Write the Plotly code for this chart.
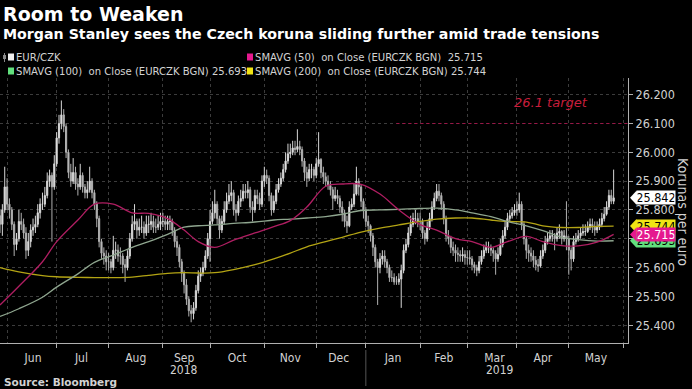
import plotly.graph_objects as go
import pandas as pd

# ---------------- data (EUR/CZK daily) ----------------
first_open = 25.78
close_2018_05 = [25.75, 25.80, 25.88]
high_2018_05 = [25.80, 25.82, 25.95]
low_2018_05 = [25.72, 25.71, 25.79]

close_2018_06 = [25.82, 25.80, 25.75, 25.68, 25.70, 25.76, 25.75, 25.72, 25.66, 25.69, 25.73, 25.74, 25.75, 25.79, 25.82, 25.82, 25.85, 25.90, 25.92, 25.88, 25.96]
high_2018_06 = [25.91, 25.84, 25.81, 25.76, 25.72, 25.80, 25.79, 25.77, 25.74, 25.72, 25.75, 25.77, 25.78, 25.82, 25.84, 25.86, 25.88, 25.93, 25.94, 25.93, 25.99]
low_2018_06 = [25.80, 25.77, 25.73, 25.64, 25.66, 25.69, 25.73, 25.70, 25.63, 25.64, 25.67, 25.71, 25.72, 25.74, 25.77, 25.80, 25.81, 25.84, 25.88, 25.69, 25.87]

close_2018_07 = [26.05, 26.10, 26.13, 26.09, 26.00, 25.93, 25.90, 25.93, 25.89, 25.88, 25.92, 25.88, 25.86, 25.87, 25.90, 25.86, 25.82, 25.77, 25.69, 25.65, 25.64, 25.62]
high_2018_07 = [26.07, 26.13, 26.18, 26.15, 26.10, 26.01, 25.96, 25.98, 25.95, 25.91, 25.96, 25.93, 25.89, 25.90, 25.95, 25.91, 25.87, 25.83, 25.78, 25.70, 25.67, 25.66]
low_2018_07 = [25.95, 26.03, 26.08, 26.07, 25.98, 25.91, 25.88, 25.89, 25.87, 25.85, 25.87, 25.86, 25.84, 25.84, 25.86, 25.84, 25.80, 25.74, 25.67, 25.63, 25.61, 25.59]

close_2018_08 = [25.62, 25.60, 25.66, 25.66, 25.64, 25.64, 25.61, 25.60, 25.64, 25.70, 25.75, 25.76, 25.73, 25.74, 25.74, 25.72, 25.75, 25.75, 25.76, 25.74, 25.74, 25.75, 25.76]
high_2018_08 = [25.65, 25.63, 25.71, 25.69, 25.68, 25.67, 25.65, 25.63, 25.66, 25.72, 25.78, 25.82, 25.77, 25.77, 25.78, 25.76, 25.78, 25.78, 25.79, 25.78, 25.77, 25.78, 25.79]
low_2018_08 = [25.59, 25.58, 25.59, 25.63, 25.62, 25.61, 25.58, 25.55, 25.59, 25.63, 25.69, 25.73, 25.70, 25.71, 25.72, 25.70, 25.71, 25.72, 25.73, 25.72, 25.72, 25.73, 25.73]

close_2018_09 = [25.76, 25.75, 25.76, 25.76, 25.73, 25.69, 25.67, 25.62, 25.58, 25.54, 25.49, 25.45, 25.44, 25.46, 25.52, 25.57, 25.58, 25.60, 25.64, 25.70]
high_2018_09 = [25.79, 25.78, 25.78, 25.78, 25.77, 25.74, 25.71, 25.68, 25.63, 25.59, 25.56, 25.50, 25.47, 25.48, 25.54, 25.59, 25.60, 25.62, 25.66, 25.72]
low_2018_09 = [25.74, 25.73, 25.73, 25.73, 25.71, 25.67, 25.64, 25.60, 25.55, 25.51, 25.47, 25.43, 25.41, 25.42, 25.45, 25.51, 25.55, 25.57, 25.59, 25.63]

close_2018_10 = [25.76, 25.79, 25.82, 25.77, 25.73, 25.76, 25.80, 25.83, 25.85, 25.86, 25.80, 25.79, 25.83, 25.84, 25.865, 25.86, 25.87, 25.81, 25.80, 25.85, 25.84, 25.82, 25.90]
high_2018_10 = [25.80, 25.83, 25.87, 25.83, 25.78, 25.78, 25.83, 25.86, 25.89, 25.90, 25.87, 25.82, 25.85, 25.87, 25.89, 25.89, 25.90, 25.88, 25.83, 25.87, 25.87, 25.86, 25.92]
low_2018_10 = [25.62, 25.75, 25.77, 25.75, 25.70, 25.72, 25.75, 25.79, 25.82, 25.83, 25.78, 25.76, 25.78, 25.81, 25.83, 25.84, 25.84, 25.79, 25.76, 25.79, 25.82, 25.80, 25.81]

close_2018_11 = [25.92, 25.91, 25.85, 25.80, 25.83, 25.87, 25.89, 25.91, 25.94, 25.97, 25.995, 26.00, 26.015, 26.01, 26.02, 26.01, 25.97, 25.93, 25.91, 25.94, 25.94, 25.92]
high_2018_11 = [25.95, 25.94, 25.92, 25.86, 25.85, 25.89, 25.91, 25.93, 25.96, 26.00, 26.03, 26.03, 26.04, 26.04, 26.08, 26.04, 26.02, 25.98, 25.95, 25.96, 25.96, 25.95]
low_2018_11 = [25.88, 25.89, 25.83, 25.78, 25.79, 25.82, 25.86, 25.88, 25.90, 25.93, 25.96, 25.98, 25.99, 25.99, 26.00, 25.99, 25.95, 25.90, 25.88, 25.90, 25.91, 25.90]

close_2018_12 = [25.96, 25.975, 25.93, 25.915, 25.90, 25.885, 25.87, 25.84, 25.85, 25.84, 25.81, 25.79, 25.76, 25.745, 25.81, 25.82, 25.855, 25.90, 25.88, 25.83, 25.80]
high_2018_12 = [25.98, 26.07, 25.98, 25.95, 25.93, 25.92, 25.90, 25.88, 25.88, 25.87, 25.85, 25.83, 25.80, 25.78, 25.83, 25.84, 25.89, 25.95, 25.91, 25.89, 25.84]
low_2018_12 = [25.91, 25.95, 25.91, 25.89, 25.88, 25.87, 25.85, 25.80, 25.83, 25.82, 25.79, 25.76, 25.74, 25.72, 25.74, 25.80, 25.81, 25.85, 25.85, 25.81, 25.77]

close_2019_01 = [25.76, 25.745, 25.71, 25.67, 25.62, 25.60, 25.63, 25.64, 25.62, 25.60, 25.565, 25.565, 25.55, 25.55, 25.56, 25.59, 25.66, 25.68, 25.72, 25.75, 25.77, 25.77, 25.76]
high_2019_01 = [25.81, 25.78, 25.75, 25.72, 25.68, 25.63, 25.65, 25.66, 25.66, 25.63, 25.61, 25.59, 25.58, 25.57, 25.58, 25.61, 25.68, 25.70, 25.74, 25.78, 25.79, 25.80, 25.79]
low_2019_01 = [25.74, 25.72, 25.69, 25.64, 25.60, 25.47, 25.58, 25.61, 25.60, 25.58, 25.55, 25.55, 25.54, 25.54, 25.54, 25.46, 25.58, 25.65, 25.67, 25.71, 25.74, 25.75, 25.74]

close_2019_02 = [25.76, 25.72, 25.70, 25.74, 25.77, 25.81, 25.84, 25.865, 25.85, 25.82, 25.77, 25.71, 25.70, 25.67, 25.66, 25.65, 25.645, 25.64, 25.645, 25.635]
high_2019_02 = [25.79, 25.77, 25.73, 25.76, 25.79, 25.83, 25.86, 25.89, 25.89, 25.86, 25.83, 25.78, 25.73, 25.71, 25.69, 25.68, 25.67, 25.66, 25.67, 25.66]
low_2019_02 = [25.73, 25.70, 25.68, 25.69, 25.73, 25.76, 25.80, 25.83, 25.83, 25.80, 25.75, 25.69, 25.68, 25.65, 25.64, 25.62, 25.62, 25.62, 25.62, 25.61]

close_2019_03 = [25.635, 25.63, 25.61, 25.60, 25.59, 25.62, 25.64, 25.66, 25.67, 25.67, 25.66, 25.65, 25.63, 25.645, 25.68, 25.71, 25.74, 25.77, 25.78, 25.79, 25.80]
high_2019_03 = [25.66, 25.66, 25.64, 25.62, 25.61, 25.64, 25.66, 25.68, 25.69, 25.69, 25.68, 25.67, 25.66, 25.67, 25.70, 25.73, 25.76, 25.79, 25.80, 25.81, 25.82]
low_2019_03 = [25.61, 25.61, 25.59, 25.58, 25.57, 25.58, 25.61, 25.63, 25.65, 25.65, 25.64, 25.62, 25.575, 25.62, 25.64, 25.67, 25.70, 25.73, 25.76, 25.77, 25.78]

close_2019_04 = [25.80, 25.82, 25.75, 25.70, 25.66, 25.65, 25.64, 25.625, 25.61, 25.605, 25.64, 25.66, 25.69, 25.70, 25.71, 25.71, 25.70, 25.72, 25.725, 25.70, 25.71, 25.70]
high_2019_04 = [25.83, 25.86, 25.83, 25.76, 25.71, 25.68, 25.67, 25.66, 25.64, 25.63, 25.66, 25.68, 25.71, 25.72, 25.73, 25.73, 25.72, 25.74, 25.75, 25.73, 25.73, 25.83]
low_2019_04 = [25.78, 25.79, 25.73, 25.68, 25.63, 25.62, 25.62, 25.60, 25.59, 25.585, 25.60, 25.63, 25.65, 25.68, 25.69, 25.69, 25.66, 25.69, 25.70, 25.68, 25.69, 25.66]

close_2019_05 = [25.66, 25.63, 25.69, 25.70, 25.71, 25.72, 25.725, 25.725, 25.74, 25.75, 25.74, 25.73, 25.74, 25.75, 25.77, 25.785, 25.81, 25.85, 25.83, 25.842]
high_2019_05 = [25.71, 25.67, 25.71, 25.72, 25.73, 25.74, 25.75, 25.75, 25.76, 25.77, 25.77, 25.76, 25.76, 25.77, 25.79, 25.81, 25.83, 25.87, 25.87, 25.94]
low_2019_05 = [25.575, 25.59, 25.62, 25.68, 25.69, 25.70, 25.71, 25.71, 25.72, 25.73, 25.72, 25.71, 25.72, 25.73, 25.74, 25.76, 25.78, 25.80, 25.82, 25.82]

# moving averages (at these dates)
sma_dates = ["2018-05-29", "2018-06-08", "2018-06-22", "2018-07-02", "2018-07-13", "2018-07-24",
             "2018-08-03", "2018-08-15", "2018-08-24", "2018-09-05", "2018-09-14", "2018-09-24",
             "2018-10-03", "2018-10-15", "2018-10-26", "2018-11-07", "2018-11-16", "2018-11-27",
             "2018-12-07", "2018-12-18", "2018-12-28", "2019-01-09", "2019-01-21", "2019-02-01",
             "2019-02-12", "2019-02-22", "2019-03-05", "2019-03-15", "2019-03-26", "2019-04-05",
             "2019-04-16", "2019-04-26", "2019-05-07", "2019-05-17", "2019-05-28"]
sma50 = [25.47, 25.535, 25.62, 25.69, 25.765, 25.82, 25.82, 25.79, 25.788, 25.77, 25.73, 25.69,
         25.67, 25.695, 25.72, 25.742, 25.763, 25.81, 25.882, 25.89, 25.889, 25.855, 25.80, 25.749,
         25.73, 25.70, 25.69, 25.67, 25.69, 25.708, 25.69, 25.676, 25.675, 25.688, 25.715]
sma100 = [25.43, 25.457, 25.497, 25.532, 25.578, 25.618, 25.643, 25.67, 25.69, 25.715, 25.74, 25.745,
          25.748, 25.753, 25.758, 25.765, 25.768, 25.772, 25.777, 25.785, 25.798, 25.80, 25.802, 25.805,
          25.806, 25.80, 25.79, 25.777, 25.76, 25.745, 25.728, 25.705, 25.697, 25.692, 25.693]
sma200 = [25.60, 25.585, 25.572, 25.568, 25.566, 25.565, 25.565, 25.567, 25.573, 25.58, 25.582, 25.581,
          25.582, 25.593, 25.61, 25.63, 25.65, 25.672, 25.69, 25.705, 25.723, 25.737, 25.748, 25.76,
          25.768, 25.772, 25.772, 25.765, 25.76, 25.758, 25.745, 25.739, 25.739, 25.743, 25.744]

last_values = {"EUR/CZK": 25.842, "SMA50": 25.715, "SMA100": 25.693, "SMA200": 25.744}
target_level = 26.1
year_labels = ["2018", "2019"]

# ---------------- assemble ----------------
closes = (close_2018_05 + close_2018_06 + close_2018_07 + close_2018_08 + close_2018_09 + close_2018_10 +
          close_2018_11 + close_2018_12 + close_2019_01 + close_2019_02 + close_2019_03 + close_2019_04 + close_2019_05)
highs = (high_2018_05 + high_2018_06 + high_2018_07 + high_2018_08 + high_2018_09 + high_2018_10 +
         high_2018_11 + high_2018_12 + high_2019_01 + high_2019_02 + high_2019_03 + high_2019_04 + high_2019_05)
lows = (low_2018_05 + low_2018_06 + low_2018_07 + low_2018_08 + low_2018_09 + low_2018_10 +
        low_2018_11 + low_2018_12 + low_2019_01 + low_2019_02 + low_2019_03 + low_2019_04 + low_2019_05)
opens = [first_open] + closes[:-1]
dates = pd.bdate_range("2018-05-29", "2019-05-28")
assert len(dates) == len(closes) == len(highs) == len(lows)

W, H = 692, 389
ML, MR, MT, MB = 0, 64, 78, 46
PW, PH = W - ML - MR, H - MT - MB
Y0, Y1 = 25.338, 26.258

def pxx(x):
    return (x - ML) / PW

def pxy(y):
    return 1 + (MT - y) / PH

FC = "DejaVu Sans Condensed, Liberation Sans Narrow, Arial Narrow, DejaVu Sans, sans-serif"
FB = "DejaVu Sans, Liberation Sans, sans-serif"
GRID = "#3c3c3c"
AX = "#b0b0b0"
TXT = "#d2d2d2"

fig = go.Figure()
fig.add_trace(go.Scatter(x=sma_dates, y=sma200, mode="lines", line=dict(color="#b3a414", width=1.3, shape="spline"),
                         hoverinfo="skip", showlegend=False))
fig.add_trace(go.Scatter(x=sma_dates, y=sma100, mode="lines", line=dict(color="#8fa68f", width=1.3, shape="spline"),
                         hoverinfo="skip", showlegend=False))
fig.add_trace(go.Scatter(x=sma_dates, y=sma50, mode="lines", line=dict(color="#b01e62", width=1.3, shape="spline"),
                         hoverinfo="skip", showlegend=False))
fig.add_trace(go.Candlestick(x=dates, open=opens, high=highs, low=lows, close=closes,
                             increasing=dict(line=dict(color="#d6d6d6", width=1), fillcolor="#f6f6f6"),
                             decreasing=dict(line=dict(color="#b0b0b0", width=1), fillcolor="#c4c4c4"),
                             whiskerwidth=0, showlegend=False))

shapes = []
annotations = []

# target line
shapes.append(dict(type="line", xref="x", yref="y", x0="2019-01-18", x1="2019-06-05", y0=target_level, y1=target_level,
                   line=dict(color="#9c1446", width=1.2, dash="dot"), layer="above"))
annotations.append(dict(text="<i>26.1 target</i>", xref="paper", yref="y", x=pxx(551), y=26.172,
                        showarrow=False, font=dict(family=FB, size=13, color="#c81e3c"), xanchor="center", yanchor="middle"))

# year separator
shapes.append(dict(type="line", xref="x", yref="paper", x0="2019-01-01", x1="2019-01-01",
                   y0=pxy(350), y1=pxy(386), line=dict(color="#555555", width=1)))
annotations.append(dict(text=year_labels[0], xref="paper", yref="paper", x=pxx(184), y=pxy(370),
                        showarrow=False, font=dict(family=FC, size=12, color=TXT), xanchor="center", yanchor="middle"))
annotations.append(dict(text=year_labels[1], xref="paper", yref="paper", x=pxx(500), y=pxy(370),
                        showarrow=False, font=dict(family=FC, size=12, color=TXT), xanchor="center", yanchor="middle"))

# title, subtitle, source
annotations.append(dict(text="<b>Room to Weaken</b>", xref="paper", yref="paper", x=pxx(1), y=pxy(14),
                        showarrow=False, font=dict(family=FB, size=19, color="#ffffff"), xanchor="left", yanchor="middle"))
annotations.append(dict(text="<b>Morgan Stanley sees the Czech koruna sliding further amid trade tensions</b>",
                        xref="paper", yref="paper", x=pxx(1), y=pxy(34), showarrow=False,
                        font=dict(family=FB, size=14.2, color="#ffffff"), xanchor="left", yanchor="middle"))
annotations.append(dict(text="<b>Source: Bloomberg</b>", xref="paper", yref="paper", x=pxx(2), y=pxy(382),
                        showarrow=False, font=dict(family=FB, size=10.5, color=TXT), xanchor="left", yanchor="middle"))

# y-axis title
annotations.append(dict(text="Korunas per euro", xref="paper", yref="paper", x=pxx(683), y=pxy(212),
                        showarrow=False, textangle=90, font=dict(family=FC, size=14, color=TXT),
                        xanchor="center", yanchor="middle"))

# legend
leg = [
    (8, 57, "#f0f0f0", "EUR/CZK"),
    (247, 57, "#e5198f", "SMAVG (50)  on Close (EURCZK BGN)  25.715"),
    (8, 71, "#62e07e", "SMAVG (100)  on Close (EURCZK BGN) 25.693"),
    (247, 71, "#f0e414", "SMAVG (200)  on Close (EURCZK BGN) 25.744"),
]
for lx, ly, col, txt in leg:
    shapes.append(dict(type="rect", xref="paper", yref="paper", x0=pxx(lx), x1=pxx(lx + 6),
                       y0=pxy(ly + 3.5), y1=pxy(ly - 3.5), fillcolor=col, line=dict(width=0)))
    annotations.append(dict(text=txt, xref="paper", yref="paper", x=pxx(lx + 6), y=pxy(ly),
                            showarrow=False, font=dict(family=FC, size=11.2, color=TXT),
                            xanchor="left", yanchor="middle"))
# small candle icon
shapes.append(dict(type="line", xref="paper", yref="paper", x0=pxx(4.5), x1=pxx(4.5), y0=pxy(53), y1=pxy(62),
                   line=dict(color="#888888", width=1)))
shapes.append(dict(type="rect", xref="paper", yref="paper", x0=pxx(3), x1=pxx(6), y0=pxy(55), y1=pxy(59),
                   fillcolor="#888888", line=dict(width=0)))

# right-axis value tags
hh = 6.5 * (Y1 - Y0) / PH
tags = [
    (last_values["SMA200"], "#f0e414", "#000000"),
    (last_values["SMA100"], "#62e07e", "#000000"),
    (last_values["SMA50"], "#e5198f", "#ffffff"),
    (last_values["EUR/CZK"], "#ffffff", "#000000"),
]
for v, bg, fg in tags:
    shapes.append(dict(type="path", xref="paper", yref="y",
                       path=f"M {pxx(630)},{v} L {pxx(636)},{v + hh} L {pxx(637)},{v + hh} L {pxx(637)},{v - hh} L {pxx(636)},{v - hh} Z",
                       fillcolor=bg, line=dict(width=0), layer="above"))
    annotations.append(dict(text=f"{v:.3f}", xref="paper", yref="y", x=pxx(636), y=v, showarrow=False,
                            xanchor="left", yanchor="middle", width=37, height=12, borderpad=0.5,
                            bgcolor=bg, font=dict(family=FC, size=12.5, color=fg), align="center"))

fig.update_layout(
    width=W, height=H,
    margin=dict(l=ML, r=MR, t=MT, b=MB),
    paper_bgcolor="#000000", plot_bgcolor="#000000",
    showlegend=False,
    shapes=shapes, annotations=annotations,
    xaxis=dict(type="date", range=["2018-05-29", "2019-06-05 02:00"],
               rangebreaks=[dict(bounds=["sat", "mon"])],
               rangeslider=dict(visible=False),
               tick0="2018-06-01", dtick="M1", ticklabelmode="period", tickformat="%b",
               ticks="outside", ticklen=4, tickcolor=AX,
               showline=True, linecolor=AX, linewidth=1,
               showgrid=True, gridcolor=GRID, griddash="dot", gridwidth=1,
               tickfont=dict(family=FC, size=12, color=TXT), zeroline=False, fixedrange=True),
    yaxis=dict(side="right", range=[Y0, Y1], tick0=25.4, dtick=0.1, tickformat=".3f",
               ticks="outside", ticklen=4, tickcolor=AX,
               showline=True, linecolor=AX, linewidth=1,
               showgrid=True, gridcolor=GRID, griddash="dot", gridwidth=1,
               tickfont=dict(family=FC, size=12.5, color=TXT), zeroline=False, fixedrange=True),
)

fig.write_html("out.html", config={"displayModeBar": False},
               post_script="document.body.style.margin='0';document.body.style.background='#000';")
